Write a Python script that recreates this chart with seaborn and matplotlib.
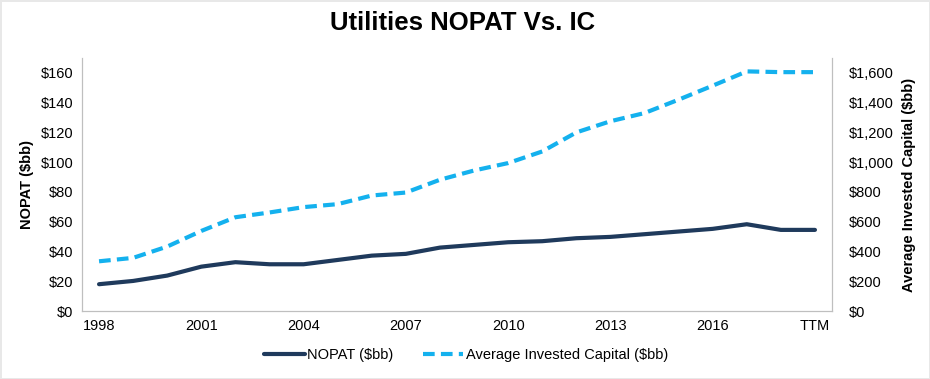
import matplotlib
matplotlib.use("Agg")
import matplotlib.pyplot as plt
import seaborn as sns
import pandas as pd
from matplotlib.ticker import FuncFormatter

periods = [str(y) for y in range(1998, 2019)] + ["TTM"]
nopat = [18.0, 20.2, 23.8, 29.8, 32.8, 31.4, 31.4, 34.3, 37.2, 38.4, 42.6,
         44.4, 46.2, 46.9, 48.9, 49.8, 51.6, 53.4, 55.2, 58.3, 54.5, 54.5]
invested_capital = [334, 357, 433, 538, 630, 662, 698, 718, 776, 796, 882,
                    944, 994, 1072, 1200, 1275, 1330, 1420, 1514, 1610, 1605, 1605]

df = pd.DataFrame({"period": periods, "nopat": nopat, "ic": invested_capital})

sns.set_style("white")
plt.rcParams["font.family"] = ["Liberation Sans", "DejaVu Sans"]
plt.rcParams["text.color"] = "black"
plt.rcParams["axes.labelcolor"] = "black"

navy = "#1f3a5c"
sky = "#14b1ee"
grey = "#bfbfbf"

fig, ax = plt.subplots(figsize=(9.3, 3.79), dpi=100)
fig.subplots_adjust(left=82 / 930, right=832 / 930, top=1 - 58 / 379, bottom=1 - 311 / 379)
ax2 = ax.twinx()

sns.lineplot(data=df, x="period", y="nopat", ax=ax, color=navy, lw=3,
             sort=False, label="NOPAT (\\$bb)", legend=False)
sns.lineplot(data=df, x="period", y="ic", ax=ax2, color=sky, lw=3,
             sort=False, label="Average Invested Capital (\\$bb)", legend=False)
ax2.lines[0].set_dashes((2.8, 1.5))

ax.set_xlim(-0.5, len(periods) - 0.5)
ax.set_ylim(0, 170)
ax2.set_ylim(0, 1700)
ax.set_yticks(range(0, 161, 20))
ax2.set_yticks(range(0, 1601, 200))
ax.yaxis.set_major_formatter(FuncFormatter(lambda v, p: f"\\${v:,.0f}"))
ax2.yaxis.set_major_formatter(FuncFormatter(lambda v, p: f"\\${v:,.0f}"))
tick_pos = list(range(0, len(periods), 3))
ax.set_xticks(tick_pos)
ax.set_xticklabels([periods[i] for i in tick_pos])

for a in (ax, ax2):
    a.tick_params(length=0, labelsize=10.5, colors="black", pad=6)
    for s in a.spines.values():
        s.set_color(grey)
    a.spines["top"].set_visible(False)
ax2.tick_params(axis="y", pad=12)
ax.set_xlabel("")
ax.set_ylabel("NOPAT (\\$bb)", fontsize=10.5, fontweight="bold", labelpad=5)
ax2.set_ylabel("Average Invested Capital (\\$bb)", fontsize=10.5, fontweight="bold",
               rotation=90, labelpad=6)

handles = ax.lines[:1] + ax2.lines[:1]
fig.legend(handles, [h.get_label() for h in handles], loc="center",
           bbox_to_anchor=(466 / 930, 1 - 355 / 379), ncol=2, frameon=False,
           fontsize=10.5, handlelength=2.8, handletextpad=0.15, columnspacing=2.0)

fig.suptitle("Utilities NOPAT Vs. IC", fontsize=18.5, fontweight="bold",
             x=463 / 930, y=1 - 23 / 379, va="center", color="black")
fig.patch.set_edgecolor("#e8e8e8")
fig.patch.set_linewidth(1)

fig.savefig("out.png", dpi=100, edgecolor=fig.get_edgecolor())
